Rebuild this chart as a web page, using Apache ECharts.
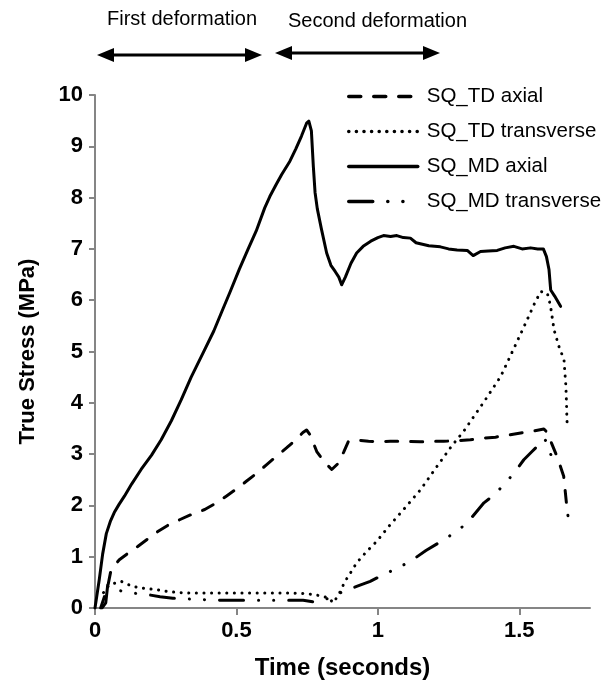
<!DOCTYPE html>
<html>
<head>
<meta charset="utf-8">
<script src="https://cdn.jsdelivr.net/npm/echarts@6/dist/echarts.min.js"></script>
<style>
html,body{margin:0;padding:0;background:#fff;}
#chart{width:609px;height:695px;}
</style>
</head>
<body>
<div id="chart"></div>
<script>
// ---- data (time in seconds, true stress in MPa) ----
const seriesNames = ['SQ_TD axial', 'SQ_TD transverse', 'SQ_MD axial', 'SQ_MD transverse'];
const xTicks = [0, 0.5, 1, 1.5];
const yTicks = [0,1,2,3,4,5,6,7,8,9,10];

const sqTdAxial = [[0.02,0],[0.045,0.42],[0.057,0.75],[0.086,0.94],[0.12,1.08],[0.151,1.2],[0.19,1.36],[0.222,1.49],[0.26,1.62],[0.299,1.72],[0.34,1.82],[0.388,1.92],[0.43,2.05],[0.464,2.18],[0.5,2.32],[0.535,2.47],[0.57,2.62],[0.606,2.79],[0.64,2.95],[0.677,3.12],[0.71,3.28],[0.735,3.42],[0.748,3.47],[0.76,3.38],[0.784,3.05],[0.81,2.85],[0.837,2.70],[0.86,2.82],[0.88,3.05],[0.896,3.25],[0.93,3.27],[0.967,3.25],[1.0,3.24],[1.044,3.25],[1.1,3.25],[1.15,3.24],[1.2,3.25],[1.233,3.25],[1.28,3.26],[1.327,3.28],[1.37,3.31],[1.416,3.33],[1.46,3.37],[1.505,3.41],[1.55,3.45],[1.587,3.49],[1.599,3.42],[1.615,3.2],[1.633,2.96],[1.657,2.57],[1.669,1.92],[1.672,1.8]];

const sqTdTransverse = [[0.03,0.3],[0.05,0.45],[0.092,0.52],[0.133,0.42],[0.175,0.38],[0.216,0.36],[0.26,0.32],[0.299,0.30],[0.35,0.29],[0.452,0.29],[0.55,0.29],[0.689,0.29],[0.75,0.28],[0.795,0.24],[0.825,0.2],[0.843,0.1],[0.865,0.3],[0.884,0.52],[0.905,0.7],[0.925,0.88],[0.96,1.1],[0.996,1.3],[1.04,1.6],[1.091,1.92],[1.15,2.3],[1.209,2.76],[1.26,3.15],[1.304,3.45],[1.38,4.06],[1.434,4.51],[1.48,5.05],[1.528,5.62],[1.555,5.95],[1.576,6.17],[1.599,6.14],[1.61,5.9],[1.623,5.42],[1.64,5.1],[1.658,4.84],[1.665,4.3],[1.669,3.6]];

const sqMdAxial = [[0.0,0.0],[0.015,0.55],[0.027,1.05],[0.04,1.45],[0.055,1.7],[0.068,1.86],[0.085,2.02],[0.104,2.18],[0.13,2.42],[0.163,2.70],[0.2,2.98],[0.234,3.28],[0.27,3.65],[0.305,4.06],[0.34,4.5],[0.38,4.95],[0.42,5.4],[0.45,5.8],[0.476,6.14],[0.51,6.6],[0.54,6.98],[0.57,7.35],[0.6,7.8],[0.618,8.02],[0.64,8.25],[0.66,8.45],[0.689,8.71],[0.71,8.95],[0.73,9.2],[0.748,9.45],[0.756,9.49],[0.765,9.3],[0.772,8.6],[0.778,8.1],[0.786,7.78],[0.80,7.4],[0.819,6.92],[0.834,6.68],[0.849,6.56],[0.862,6.45],[0.872,6.3],[0.885,6.45],[0.905,6.72],[0.925,6.92],[0.948,7.05],[0.975,7.15],[1.0,7.22],[1.02,7.26],[1.045,7.24],[1.067,7.26],[1.09,7.22],[1.115,7.21],[1.135,7.12],[1.15,7.10],[1.18,7.06],[1.221,7.04],[1.25,7.0],[1.28,6.98],[1.316,6.97],[1.337,6.87],[1.363,6.95],[1.39,6.96],[1.422,6.97],[1.45,7.02],[1.481,7.05],[1.51,7.0],[1.54,7.02],[1.565,7.0],[1.585,7.0],[1.596,6.85],[1.605,6.6],[1.611,6.2],[1.625,6.08],[1.646,5.88]];

const sqMdTransverse = [[0.025,0],[0.038,0.1],[0.045,0.45],[0.06,0.38],[0.1,0.32],[0.15,0.28],[0.187,0.26],[0.23,0.22],[0.275,0.19],[0.35,0.17],[0.452,0.15],[0.535,0.15],[0.65,0.15],[0.736,0.15],[0.784,0.11],[0.83,0.2],[0.88,0.33],[0.925,0.42],[0.973,0.52],[1.02,0.65],[1.07,0.78],[1.115,0.91],[1.17,1.12],[1.233,1.33],[1.28,1.5],[1.316,1.66],[1.375,2.05],[1.41,2.2],[1.445,2.40],[1.48,2.62],[1.516,2.89],[1.545,3.05],[1.576,3.22],[1.59,3.3],[1.605,3.1],[1.62,2.85]];

const topLabels = ['First deformation', 'Second deformation'];
const xTitle = 'Time (seconds)';
const yTitle = 'True Stress (MPa)';

// ---- chart ----
const FONT = '"Liberation Sans", Arial, sans-serif';
const chart = echarts.init(document.getElementById('chart'), null, {renderer: 'canvas'});

function arrow(x1, x2, y) {
  const hl = 17, hw = 7;
  return {
    type: 'group',
    children: [
      {type: 'line', shape: {x1: x1 + hl - 2, y1: y, x2: x2 - hl + 2, y2: y}, style: {stroke: '#000', lineWidth: 3}},
      {type: 'polygon', shape: {points: [[x1, y], [x1 + hl, y - hw], [x1 + hl, y + hw]]}, style: {fill: '#000'}},
      {type: 'polygon', shape: {points: [[x2, y], [x2 - hl, y - hw], [x2 - hl, y + hw]]}, style: {fill: '#000'}}
    ]
  };
}

const axisLineStyle = {color: '#858585', width: 2};
const labelStyle = {color: '#000', fontFamily: FONT, fontWeight: 'bold', fontSize: 22};

function lineSeries(name, data, type, width) {
  return {
    name: name,
    type: 'line',
    data: data,
    showSymbol: false,
    symbol: 'none',
    smooth: false,
    animation: false,
    itemStyle: {color: '#000'},
    lineStyle: {color: '#000', width: width, type: type, cap: 'round', join: 'round'},
    z: 3
  };
}

chart.setOption({
  backgroundColor: '#fff',
  animation: false,
  grid: {left: 95, right: 19, top: 95, bottom: 87, containLabel: false},
  legend: {
    orient: 'vertical',
    left: 347,
    top: 86,
    itemWidth: 69,
    itemHeight: 20,
    itemGap: 14,
    data: seriesNames,
    itemStyle: {opacity: 0},
    lineStyle: {width: 3.5, cap: 'round'},
    textStyle: {color: '#000', fontFamily: FONT, fontSize: 20.5, lineHeight: 20, padding: [0, 0, 0, 4]},
    backgroundColor: '#fff',
    padding: 0
  },
  xAxis: {
    type: 'value',
    min: 0,
    max: 1.75,
    interval: 0.5,
    name: xTitle,
    nameLocation: 'middle',
    nameGap: 48,
    nameTextStyle: {color: '#000', fontFamily: FONT, fontWeight: 'bold', fontSize: 24},
    axisLine: {show: true, onZero: false, lineStyle: axisLineStyle},
    axisTick: {show: true, inside: false, length: 7, lineStyle: axisLineStyle, customValues: xTicks},
    axisLabel: Object.assign({margin: 12, customValues: xTicks, formatter: v => String(v)}, labelStyle),
    splitLine: {show: false}
  },
  yAxis: {
    type: 'value',
    min: 0,
    max: 10,
    interval: 1,
    name: yTitle,
    nameLocation: 'middle',
    nameGap: 56,
    nameRotate: 90,
    nameTextStyle: {color: '#000', fontFamily: FONT, fontWeight: 'bold', fontSize: 22},
    axisLine: {show: true, onZero: false, lineStyle: axisLineStyle},
    axisTick: {show: true, inside: false, length: 6, lineStyle: axisLineStyle, customValues: yTicks},
    axisLabel: Object.assign({margin: 12, customValues: yTicks}, labelStyle),
    splitLine: {show: false}
  },
  series: [
    lineSeries(seriesNames[0], sqTdAxial, [12, 13], 3),
    lineSeries(seriesNames[1], sqTdTransverse, [0.1, 7.5], 3),
    lineSeries(seriesNames[2], sqMdAxial, 'solid', 3),
    lineSeries(seriesNames[3], sqMdTransverse, [24, 15, 0.1, 15, 0.1, 15], 3)
  ],
  graphic: [
    {type: 'text', left: 107, top: 9, style: {text: topLabels[0], fill: '#000', font: '20px ' + FONT}},
    {type: 'text', left: 288, top: 11, style: {text: topLabels[1], fill: '#000', font: '20px ' + FONT}},
    arrow(97, 262, 55),
    arrow(275, 440, 53)
  ]
});
</script>
</body>
</html>
